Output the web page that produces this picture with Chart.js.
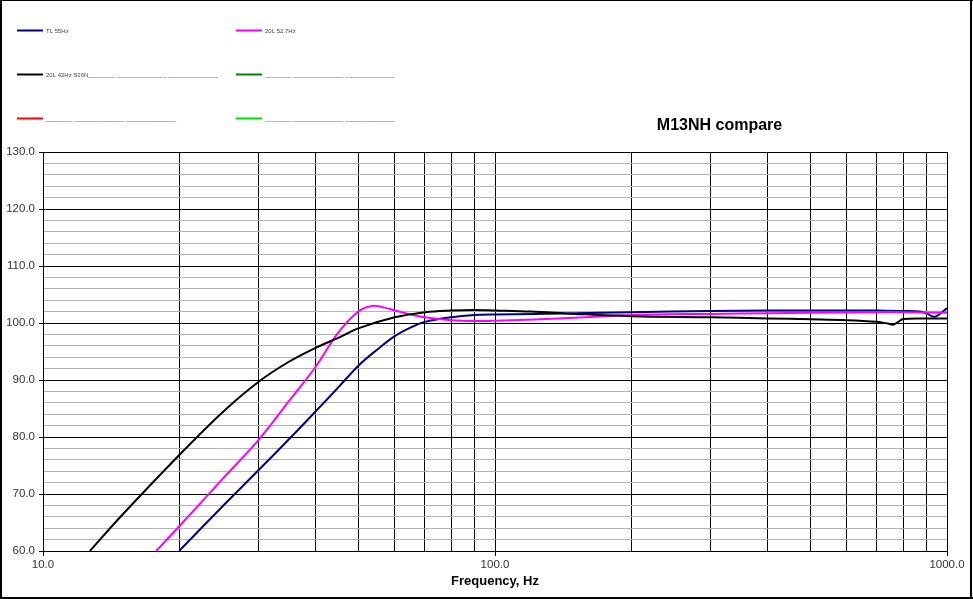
<!DOCTYPE html>
<html><head><meta charset="utf-8">
<script src="https://cdn.jsdelivr.net/npm/chart.js@4"></script>
<style>html,body{margin:0;padding:0;background:#fff}#wrap{width:973px;height:599px;position:relative}canvas{display:block}</style>
</head><body><div id="wrap"><canvas id="c" width="973" height="599"></canvas></div>
<script>
// ---- text ----
const chartTitle = "M13NH compare";
const xAxisTitle = "Frequency, Hz";

// ---- tick values ----
const xTickValues = [10,20,30,40,50,60,70,80,90,100,200,300,400,500,600,700,800,900,1000];
const xLabelValues = [10,100,1000];
const yMin = 60, yMax = 130, yStep = 2, yLabelStep = 10;

// ---- series: TL 55Hz (navy) ----
const tlName = "TL 55Hz";
const tlFreq = [20,25,30,35,40,45,50,55,60,65,70,80,90,100,150,200,300,400,500,600,700,800,870,900,940,1000];
const tlLevel = [60,67.9,74.2,79.6,84.4,88.7,92.6,95.4,97.7,99.2,100.2,101.0,101.4,101.5,101.7,101.9,102.1,102.2,102.2,102.2,102.2,102.1,102.0,101.7,101.1,102.6];

// ---- series: 20L 52.7Hz (magenta) ----
const l527Name = "20L 52.7Hz";
const l527Freq = [17.8,20,25,30,35,40,45,50,53.5,57,60,65,70,80,90,100,150,200,300,400,500,700,800,1000];
const l527Level = [60,64.3,72.7,79.5,86.3,92.2,98.3,102.1,103.0,102.7,102.2,101.5,101.0,100.5,100.35,100.4,100.9,101.4,101.6,101.7,101.8,101.9,101.9,101.8];

// ---- series: 20L 42Hz S16N (black) ----
const l42Name = "20L 42Hz S16N________ _______________ _______________ .";
const l42Freq = [12.7,15,20,25,30,35,40,45,50,60,70,80,90,100,120,150,200,300,400,500,600,700,740,760,780,800,900,1000];
const l42Level = [60,66.4,76.8,84.4,89.7,93.2,95.6,97.4,99.1,101.0,101.9,102.2,102.3,102.2,102.0,101.6,101.2,101.0,100.8,100.65,100.5,100.2,99.9,99.7,100.2,100.7,100.8,100.8];

// ---- empty series ----
const emptyName = "________ _______________ _______________";

const pts = (f, v) => f.map((x, i) => ({x: x, y: v[i]}));

const datasets = [
  {label: tlName, data: pts(tlFreq, tlLevel), borderColor: '#000080', order: 2},
  {label: l527Name, data: pts(l527Freq, l527Level), borderColor: '#ff00ff', order: 1},
  {label: l42Name, data: pts(l42Freq, l42Level), borderColor: '#000000', order: 0},
  {label: emptyName, data: [], borderColor: '#008000', order: 3},
  {label: emptyName, data: [], borderColor: '#ff0000', order: 4},
  {label: emptyName, data: [], borderColor: '#00e000', order: 5}
].map(d => Object.assign({borderWidth: 2, pointRadius: 0, tension: 0.35, fill: false}, d));

const FONT = "'Liberation Sans', Arial, sans-serif";

const decorPlugin = {
  id: 'decor',
  afterDraw(chart) {
    const ctx = chart.ctx;
    ctx.save();
    // legend (2 columns x 3 rows)
    const colX = [17, 236];
    const rowY = [30.5, 74.5, 118.5];
    chart.data.datasets.forEach((ds, i) => {
      const col = i % 2, row = Math.floor(i / 2);
      const x = colX[col], y = rowY[row];
      ctx.strokeStyle = ds.borderColor;
      ctx.lineWidth = 2;
      ctx.beginPath(); ctx.moveTo(x, y); ctx.lineTo(x + 26, y); ctx.stroke();
      ctx.fillStyle = '#444';
      ctx.font = "6px " + FONT;
      ctx.textBaseline = 'middle';
      ctx.textAlign = 'left';
      ctx.fillText(ds.label, x + 29, y + 0.5);
    });
    // title
    ctx.fillStyle = '#000';
    ctx.font = "bold 16px " + FONT;
    ctx.textAlign = 'center';
    ctx.textBaseline = 'middle';
    ctx.fillText(chartTitle, 719.5, 126);
    // outer frame
    ctx.fillStyle = '#000';
    ctx.fillRect(0, 0, 973, 1);
    ctx.fillRect(0, 0, 2, 599);
    ctx.fillRect(0, 597, 973, 2);
    ctx.fillRect(970, 0, 2, 599);
    ctx.restore();
  }
};

new Chart(document.getElementById('c'), {
  type: 'line',
  data: {datasets: datasets},
  plugins: [decorPlugin],
  options: {
    responsive: false,
    animation: false,
    devicePixelRatio: 1,
    layout: {padding: {left: 0, top: 152, right: 26, bottom: 0}},
    plugins: {legend: {display: false}, tooltip: {enabled: false}, title: {display: false}},
    scales: {
      x: {
        type: 'logarithmic',
        min: 10, max: 1000,
        afterBuildTicks: (s) => { s.ticks = xTickValues.map(v => ({value: v})); },
        afterFit: (s) => { s.height = 48; },
        ticks: {
          autoSkip: false, maxRotation: 0, minRotation: 0, padding: 2,
          color: '#333', font: {family: FONT, size: 11.5},
          callback: (v) => xLabelValues.includes(v) ? Number(v).toFixed(1) : ''
        },
        grid: {
          color: '#000', lineWidth: 1, tickLength: 5,
          tickColor: (c) => (c.tick && xLabelValues.includes(c.tick.value)) ? '#000' : 'rgba(0,0,0,0)'
        },
        border: {color: '#000', width: 1},
        title: {display: true, text: xAxisTitle, color: '#000', font: {family: FONT, size: 13, weight: 'bold'}, padding: {top: 0, bottom: 10}}
      },
      y: {
        type: 'linear',
        min: yMin, max: yMax,
        afterFit: (s) => { s.width = 43; },
        ticks: {
          stepSize: yStep, autoSkip: false, padding: 4,
          color: '#333', font: {family: FONT, size: 11.5},
          callback: (v) => (v % yLabelStep === 0) ? Number(v).toFixed(1) : ''
        },
        grid: {
          lineWidth: 1, tickLength: 4,
          color: (c) => (c.tick && c.tick.value % yLabelStep === 0) ? '#000' : '#b4b4b4',
          tickColor: (c) => (c.tick && c.tick.value % yLabelStep === 0) ? '#000' : 'rgba(0,0,0,0)'
        },
        border: {color: '#000', width: 1}
      }
    }
  }
});
</script>
</body></html>
